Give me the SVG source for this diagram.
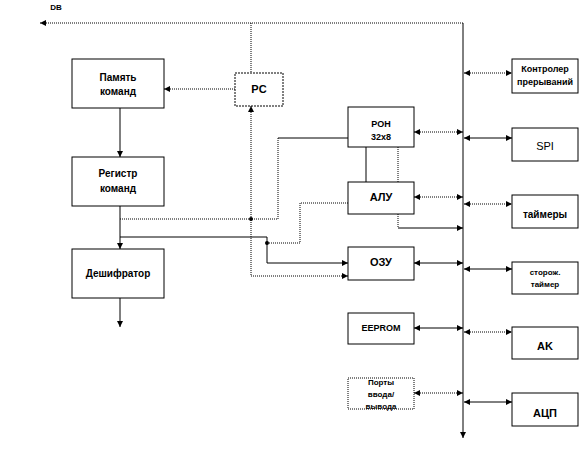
<svg xmlns="http://www.w3.org/2000/svg" width="587" height="449" viewBox="0 0 587 449">
<style>
.box{fill:#fff;stroke:#000;stroke-width:1}
.t{font-family:"Liberation Sans",Arial,sans-serif;font-weight:bold;text-anchor:middle;fill:#000}
.s{fill:none;stroke:#000;stroke-width:1}
.d{fill:none;stroke:#000;stroke-width:1;stroke-dasharray:1,1}
</style>
<defs>
<marker id="a" viewBox="0 0 6 6" refX="6" refY="3" markerWidth="6" markerHeight="6" markerUnits="userSpaceOnUse" orient="auto-start-reverse">
<path d="M0,0 L6,3 L0,6 Z" fill="#000"/>
</marker>
</defs>
<rect width="587" height="449" fill="#fff"/>
<text class="t" x="56" y="10" font-size="8">DB</text>
<g id="connectors">
<path class="d" d="M463,23 L40,23" marker-end="url(#a)"/>
<path class="s" d="M463,23 L463,438" marker-end="url(#a)"/>
<path class="d" d="M251,23 L251,73"/>
<path class="d" d="M235,89 L164,89" marker-end="url(#a)"/>
<path class="d" d="M348,276 L251,276 L251,106" marker-start="url(#a)" marker-end="url(#a)"/>
<path class="s" d="M120,108 L120,157" marker-end="url(#a)"/>
<path class="s" d="M120,206 L120,249" marker-end="url(#a)"/>
<path class="s" d="M120,298 L120,327" marker-end="url(#a)"/>
<path class="d" d="M120,219 L278,219 L278,138"/>
<path class="s" d="M278,138 L348,138"/>
<circle cx="251" cy="219" r="2" fill="#000"/>
<path class="s" d="M120,237 L267,237 L267,263 L348,263" marker-end="url(#a)"/>
<circle cx="267" cy="243" r="2" fill="#000"/>
<path class="d" d="M348,203 L300,203 L300,243 L267,243"/>
<path class="s" d="M366,147 L366,182"/>
<path class="d" d="M398,147 L398,182"/>
<path class="d" d="M414,132 L463,132" marker-start="url(#a)" marker-end="url(#a)"/>
<path class="d" d="M414,197 L463,197" marker-start="url(#a)" marker-end="url(#a)"/>
<path class="d" d="M398,214 L398,228"/>
<path class="s" d="M398,228 L463,228" marker-end="url(#a)"/>
<path class="s" d="M414,263 L463,263" marker-start="url(#a)" marker-end="url(#a)"/>
<path class="s" d="M414,328 L463,328" marker-start="url(#a)" marker-end="url(#a)"/>
<path class="d" d="M414,393 L463,393" marker-start="url(#a)" marker-end="url(#a)"/>
<path class="d" d="M464,73 L512,73" marker-start="url(#a)" marker-end="url(#a)"/>
<path class="s" d="M464,138 L512,138" marker-start="url(#a)" marker-end="url(#a)"/>
<path class="d" d="M464,204 L512,204" marker-start="url(#a)" marker-end="url(#a)"/>
<path class="s" d="M464,269 L512,269" marker-start="url(#a)" marker-end="url(#a)"/>
<path class="d" d="M464,332 L512,332" marker-start="url(#a)" marker-end="url(#a)"/>
<path class="s" d="M464,402 L512,402" marker-start="url(#a)" marker-end="url(#a)"/>
</g>
<g id="pamyat"><rect class="box" x="72" y="59" width="92" height="49"/><text class="t" x="118" y="81" font-size="10">Память</text><text class="t" x="118" y="95" font-size="10">команд</text></g>
<g id="registr"><rect class="box" x="72" y="157" width="92" height="49"/><text class="t" x="118" y="177" font-size="10">Регистр</text><text class="t" x="118" y="192" font-size="10">команд</text></g>
<g id="deshifr"><rect class="box" x="72" y="249" width="92" height="49"/><text class="t" x="118" y="277" font-size="10">Дешифратор</text></g>
<g id="pc"><rect class="box" x="235" y="73" width="48" height="33" stroke-dasharray="2,1"/><text class="t" x="259" y="93" font-size="11">PC</text></g>
<g id="ron"><rect class="box" x="348" y="107" width="66" height="40"/><text class="t" x="381" y="127" font-size="9">РОН</text><text class="t" x="381" y="140" font-size="9">32x8</text></g>
<g id="alu"><rect class="box" x="348" y="182" width="66" height="32"/><text class="t" x="381" y="201" font-size="11">АЛУ</text></g>
<g id="ozu"><rect class="box" x="348" y="247" width="66" height="33"/><text class="t" x="381" y="266" font-size="11">ОЗУ</text></g>
<g id="eeprom"><rect class="box" x="348" y="313" width="66" height="31"/><text class="t" x="381" y="331" font-size="9">EEPROM</text></g>
<g id="porty"><rect class="box" x="348" y="378" width="66" height="31" stroke-dasharray="1,1"/><text class="t" x="381" y="385" font-size="8">Порты</text><text class="t" x="381" y="397" font-size="8">ввода/</text><text class="t" x="381" y="409" font-size="8">вывода</text></g>
<g id="kontroler"><rect class="box" x="512" y="59" width="66" height="34"/><text class="t" x="545" y="72" font-size="9">Контролер</text><text class="t" x="545" y="85" font-size="9">прерываний</text></g>
<g id="spi"><rect class="box" x="512" y="128" width="66" height="33"/><text class="t" x="545" y="150" font-size="11" style="font-weight:normal">SPI</text></g>
<g id="taimery"><rect class="box" x="512" y="195" width="66" height="33"/><text class="t" x="545" y="218" font-size="10">таймеры</text></g>
<g id="storozh"><rect class="box" x="512" y="262" width="66" height="32"/><text class="t" x="545" y="275" font-size="8">сторож.</text><text class="t" x="545" y="287" font-size="8">таймер</text></g>
<g id="ak"><rect class="box" x="512" y="327" width="66" height="32"/><text class="t" x="545" y="350" font-size="11">AK</text></g>
<g id="acp"><rect class="box" x="512" y="393" width="66" height="33"/><text class="t" x="545" y="417" font-size="11">АЦП</text></g>
</svg>
